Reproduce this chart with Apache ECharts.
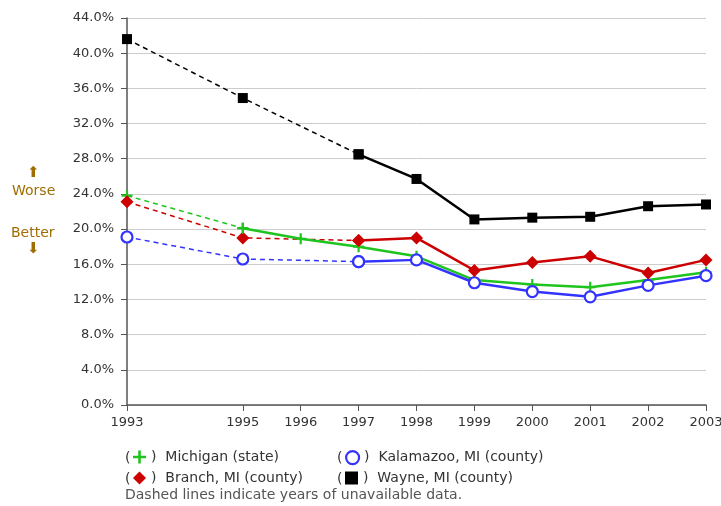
<!DOCTYPE html>
<html style="height: 100%">
<head>
<meta charset="utf-8">
</head>
<body style="height: 100%; margin: 0">
<div id="container" style="width: 721px; height: 506px"></div>
<script type="text/javascript" src="https://cdn.jsdelivr.net/npm/echarts@6/dist/echarts.min.js"></script>
<script type="text/javascript">
var stateYears = [1993, 1995, 1996, 1997, 1998, 1999, 2000, 2001, 2002, 2003];
var countyYears = [1993, 1995, 1997, 1998, 1999, 2000, 2001, 2002, 2003];
var tickYears = [1993, 1995, 1996, 1997, 1998, 1999, 2000, 2001, 2002, 2003];

var michigan = [23.8, 20.1, 18.9, 18.0, 16.9, 14.2, 13.7, 13.4, 14.2, 15.1];
var kalamazoo = [19.1, 16.6, 16.3, 16.5, 13.9, 12.9, 12.3, 13.6, 14.7];
var branch = [23.1, 19.0, 18.7, 19.0, 15.3, 16.2, 16.9, 15.0, 16.5];
var wayne = [41.6, 34.9, 28.5, 25.7, 21.1, 21.3, 21.4, 22.6, 22.8];

var plusPath = 'path://M4,0h2v4h4v2h-4v4h-2v-4h-4v-2h4z';
var font = 'DejaVu Sans';

var dom = document.getElementById('container');
var myChart = echarts.init(dom);

function pairs(xs, ys) {
    var out = [];
    for (var i = 0; i < xs.length; i++) {
        out.push([xs[i], ys[i]]);
    }
    return out;
}

// each entity: dashed part over missing years, solid part afterwards
var entities = [
    { name: 'Michigan (state)', xs: stateYears, ys: michigan, solidFrom: 1, color: '#1fc41f',
      symbol: plusPath, size: 11, fill: '#1fc41f' },
    { name: 'Kalamazoo, MI (county)', xs: countyYears, ys: kalamazoo, solidFrom: 2, color: '#3333ff',
      symbol: 'circle', size: 11, fill: '#ffffff' },
    { name: 'Branch, MI (county)', xs: countyYears, ys: branch, solidFrom: 2, color: '#cc0000',
      symbol: 'diamond', size: 13, fill: '#cc0000' },
    { name: 'Wayne, MI (county)', xs: countyYears, ys: wayne, solidFrom: 2, color: '#000000',
      symbol: 'rect', size: 10, fill: '#000000' }
];

var series = [];
entities.forEach(function (e) {
    var all = pairs(e.xs, e.ys);
    var itemStyle = {
        color: e.fill,
        borderColor: e.color,
        borderWidth: e.symbol === 'circle' ? 2.2 : 0
    };
    series.push({
        name: e.name + ' gap',
        type: 'line',
        data: all.slice(0, e.solidFrom + 1),
        symbol: e.symbol,
        symbolSize: e.size,
        showAllSymbol: true,
        itemStyle: itemStyle,
        lineStyle: { color: e.color, width: 1.5, type: [5, 4] },
        silent: true,
        z: 2
    });
    series.push({
        name: e.name,
        type: 'line',
        data: all.slice(e.solidFrom),
        symbol: e.symbol,
        symbolSize: e.size,
        showAllSymbol: true,
        itemStyle: itemStyle,
        lineStyle: { color: e.color, width: 2.5 },
        z: 3
    });
});

var legendPos = [
    { left: 133, top: 450 },
    { left: 345, top: 450 },
    { left: 133, top: 471 },
    { left: 345, top: 471 }
];

var legends = entities.map(function (e, i) {
    return {
        data: [{
            name: e.name,
            icon: e.symbol,
            itemStyle: {
                color: e.fill,
                borderColor: e.color,
                borderWidth: e.symbol === 'circle' ? 2.2 : 0
            }
        }],
        left: legendPos[i].left,
        top: legendPos[i].top,
        padding: 0,
        itemWidth: 13,
        itemHeight: 13,
        selectedMode: false,
        formatter: ')  ' + e.name,
        textStyle: { fontFamily: font, fontSize: 14, color: '#333' }
    };
});

var graphics = legendPos.map(function (p) {
    return {
        type: 'text',
        left: p.left - 8,
        top: p.top + 1,
        style: { text: '(', fontFamily: font, fontSize: 14, fill: '#333' }
    };
});

var brown = '#a06d00';
graphics.push(
    { type: 'text', left: 27, top: 166, style: { text: '⬆', fontFamily: font, fontSize: 15, fill: brown } },
    { type: 'text', left: 12, top: 184, style: { text: 'Worse', fontFamily: font, fontSize: 14, fill: brown } },
    { type: 'text', left: 11, top: 226, style: { text: 'Better', fontFamily: font, fontSize: 14, fill: brown } },
    { type: 'text', left: 27, top: 242, style: { text: '⬇', fontFamily: font, fontSize: 15, fill: brown } },
    { type: 'text', left: 125, top: 488,
      style: { text: 'Dashed lines indicate years of unavailable data.', fontFamily: font, fontSize: 14, fill: '#555' } }
);

var option = {
    animation: false,
    backgroundColor: '#ffffff',
    grid: { left: 127, right: 15, top: 18, bottom: 101, outerBoundsMode: 'none' },
    xAxis: {
        type: 'value',
        min: 1993,
        max: 2003,
        interval: 1,
        axisLine: { lineStyle: { color: '#555', width: 1.5 } },
        axisTick: { show: true, length: 6, customValues: tickYears, lineStyle: { color: '#555' } },
        axisLabel: {
            customValues: tickYears,
            formatter: function (v) { return String(v); },
            fontFamily: font, fontSize: 13, color: '#333', margin: 11
        },
        splitLine: { show: false }
    },
    yAxis: {
        type: 'value',
        min: 0,
        max: 44,
        interval: 4,
        axisLine: { show: true, lineStyle: { color: '#555', width: 1.5 } },
        axisTick: { show: true, length: 6, lineStyle: { color: '#555' } },
        axisLabel: {
            formatter: function (v) { return v.toFixed(1) + '%'; },
            fontFamily: font, fontSize: 13, color: '#333', margin: 13
        },
        splitLine: { lineStyle: { color: '#cccccc', width: 1 } }
    },
    legend: legends,
    graphic: graphics,
    series: series
};

myChart.setOption(option);
</script>
</body>
</html>
